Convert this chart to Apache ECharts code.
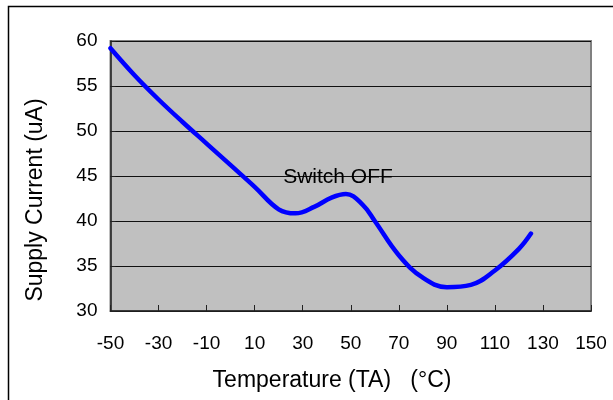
<!DOCTYPE html>
<html>
<head>
<meta charset="utf-8">
<script src="https://cdn.jsdelivr.net/npm/echarts@6/dist/echarts.min.js"></script>
<style>
html,body{margin:0;padding:0;background:#fff;}
#c{width:613px;height:400px;}
</style>
</head>
<body>
<div id="c"></div>
<script>
const temps = [-50, -40, -30, -20, -10, 0, 10, 20, 27, 35, 42, 48, 55, 60, 70, 80, 90, 100, 110, 120, 125];
const current = [59.2, 56.2, 53.5, 51.0, 48.6, 46.2, 43.8, 41.3, 40.85, 41.6, 42.6, 43.0, 41.8, 40.0, 36.2, 33.7, 32.65, 32.9, 34.5, 36.9, 38.6];
const xTicks = [-50, -30, -10, 10, 30, 50, 70, 90, 110, 130, 150];
const yTicks = [30, 35, 40, 45, 50, 55, 60];
const xTitle = 'Temperature (TA)   (°C)';
const yTitle = 'Supply Current (uA)';
const note = 'Switch OFF';

const font = 'Liberation Sans, Arial, sans-serif';
const chart = echarts.init(document.getElementById('c'), null, {renderer: 'canvas'});
const points = temps.map((t, i) => [t, current[i]]);

chart.setOption({
  animation: false,
  backgroundColor: '#ffffff',
  grid: {left: 110.5, right: 22, top: 41, bottom: 89, show: true, backgroundColor: '#c0c0c0', borderColor: '#808080', borderWidth: 2},
  xAxis: {
    type: 'value', min: xTicks[0], max: xTicks[xTicks.length - 1], interval: 20,
    axisLine: {show: true, onZero: false, lineStyle: {color: '#222', width: 1.5}},
    axisTick: {show: true, inside: true, length: 6, lineStyle: {color: '#222'}},
    axisLabel: {color: '#000', fontSize: 19, fontFamily: font, margin: 23},
    splitLine: {show: false}
  },
  yAxis: {
    type: 'value', min: yTicks[0], max: yTicks[yTicks.length - 1], interval: 5,
    axisLine: {show: true, onZero: false, lineStyle: {color: '#222', width: 1.5}},
    axisTick: {show: true, inside: true, length: 5, lineStyle: {color: '#222'}},
    axisLabel: {color: '#000', fontSize: 19, fontFamily: font, margin: 13},
    splitLine: {show: true, lineStyle: {color: '#111', width: 1}}
  },
  series: [{
    type: 'line', data: points, smooth: 0.4, showSymbol: false,
    lineStyle: {color: '#0000ff', width: 4.5, cap: 'round'}
  }],
  graphic: [
    {type: 'rect', shape: {x: 8.5, y: 6.5, width: 700, height: 500}, style: {fill: 'none', stroke: '#000', lineWidth: 1.5}, z: 100},
    {type: 'text', x: 332, y: 381, style: {text: xTitle, font: '23px ' + font, fill: '#000', textAlign: 'center', textVerticalAlign: 'middle'}},
    {type: 'text', x: 36, y: 200, rotation: Math.PI / 2, style: {text: yTitle, font: '23px ' + font, fill: '#000', textAlign: 'center', textVerticalAlign: 'middle'}},
    {type: 'text', x: 338, y: 177, style: {text: note, font: '21px ' + font, fill: '#000', textAlign: 'center', textVerticalAlign: 'middle'}, z: 50}
  ]
});
</script>
</body>
</html>
